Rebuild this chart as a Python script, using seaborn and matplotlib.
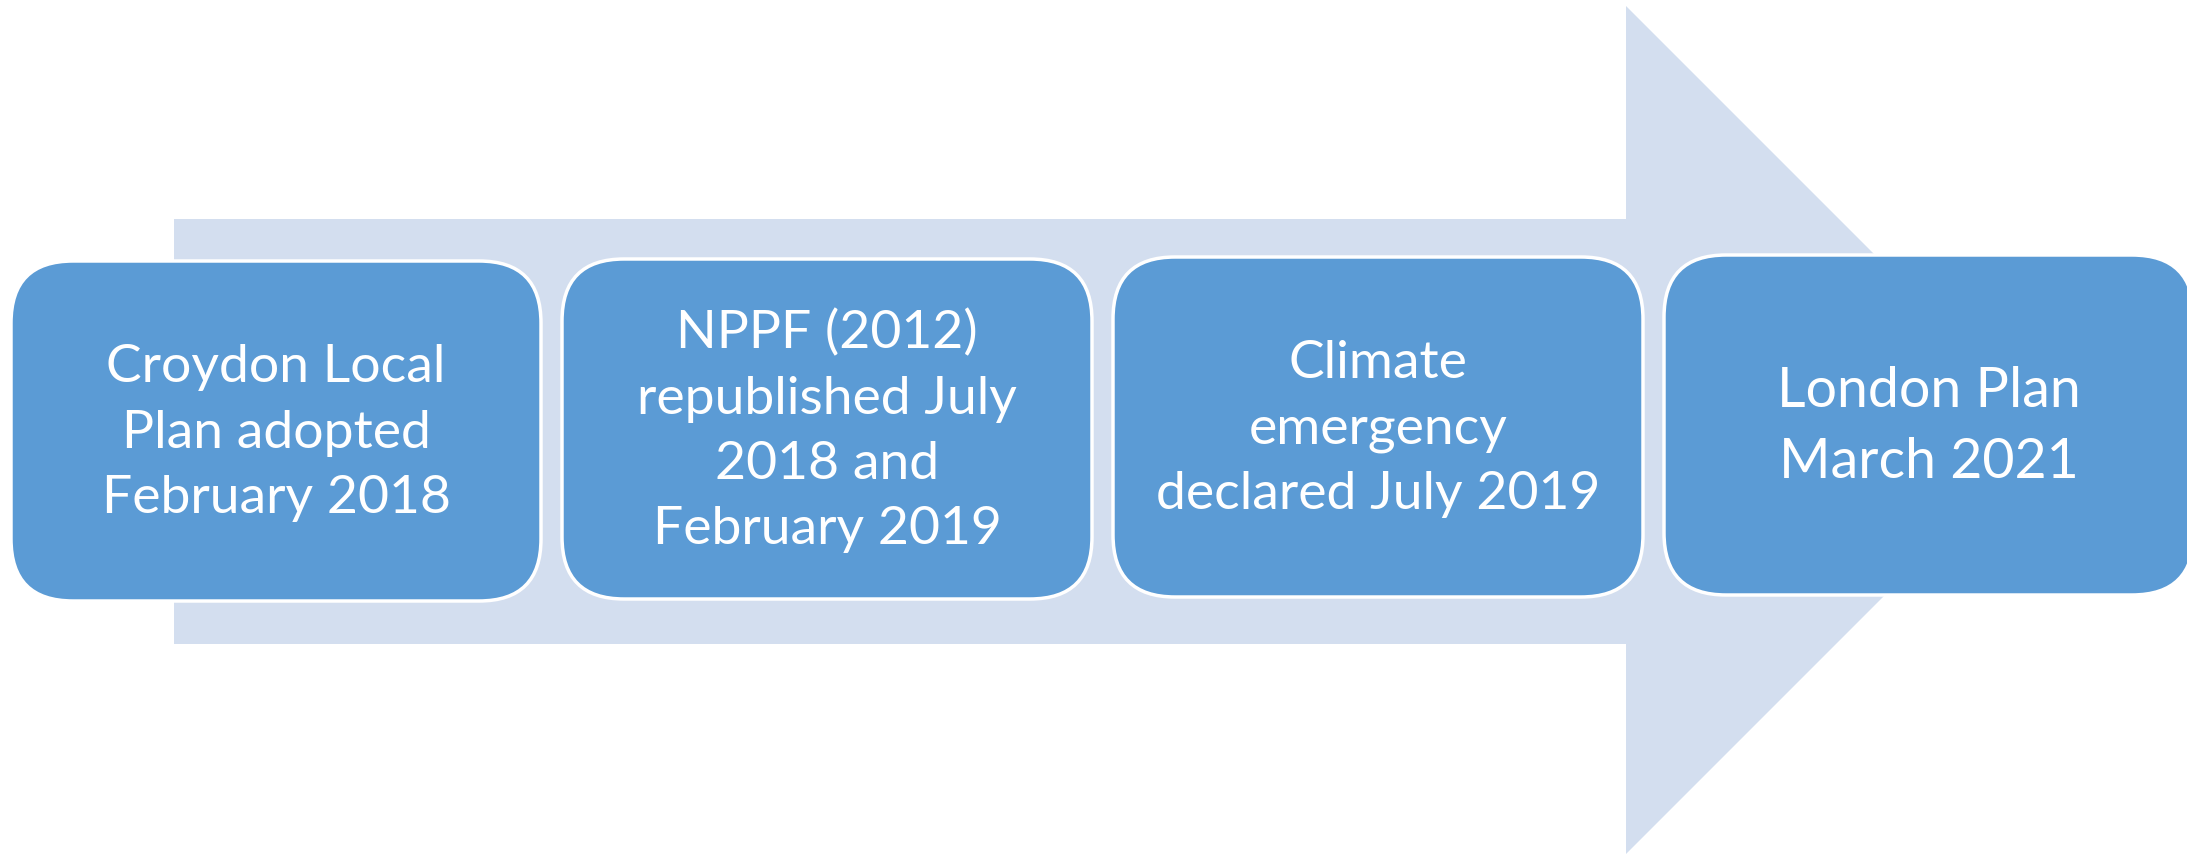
import matplotlib
matplotlib.use("Agg")
import matplotlib.pyplot as plt
import seaborn as sns
from matplotlib.patches import FancyBboxPatch, Polygon

# ==========================
# Data
# ==========================
milestones = [
    "Croydon Local\nPlan adopted\nFebruary 2018",
    "NPPF (2012)\nrepublished July\n2018 and\nFebruary 2019",
    "Climate\nemergency\ndeclared July 2019",
    "London Plan\nMarch 2021",
]
years = [2018, 2018, 2019, 2021]

# ==========================
# Style
# ==========================
sns.set_theme(style="white")
plt.rcParams['font.family'] = ['Lato', 'DejaVu Sans']

box_color = "#5B9BD5"
arrow_color = "#D3DEEF"

W, H = 2187, 855
fig = plt.figure(figsize=(W / 100, H / 100), dpi=100)
ax = fig.add_axes([0, 0, 1, 1])
ax.set_xlim(0, W)
ax.set_ylim(H, 0)
ax.axis("off")

# background arrow (pixel coordinates of the canvas)
arrow = Polygon(
    [(174, 219), (1626, 219), (1626, 6), (2050, 430),
     (1626, 854), (1626, 644), (174, 644)],
    closed=True, facecolor=arrow_color, edgecolor="none", zorder=1)
ax.add_patch(arrow)

# ==========================
# Boxes
# ==========================
box_w, box_h = 530, 340
for i, (label, yr) in enumerate(zip(milestones, years)):
    x0 = 11 + i * 551
    y0 = 261 - 2 * i
    box = FancyBboxPatch((x0, y0), box_w, box_h,
                         boxstyle="round,pad=0,rounding_size=62",
                         facecolor=box_color, edgecolor="white",
                         linewidth=2.5, zorder=2)
    ax.add_patch(box)
    ax.text(x0 + box_w / 2, y0 + box_h / 2 + 2, label,
            ha="center", va="center", color="white",
            fontsize=38.5 if i < 3 else 40, linespacing=1.48, zorder=3)

fig.savefig("out.png", dpi=100)
